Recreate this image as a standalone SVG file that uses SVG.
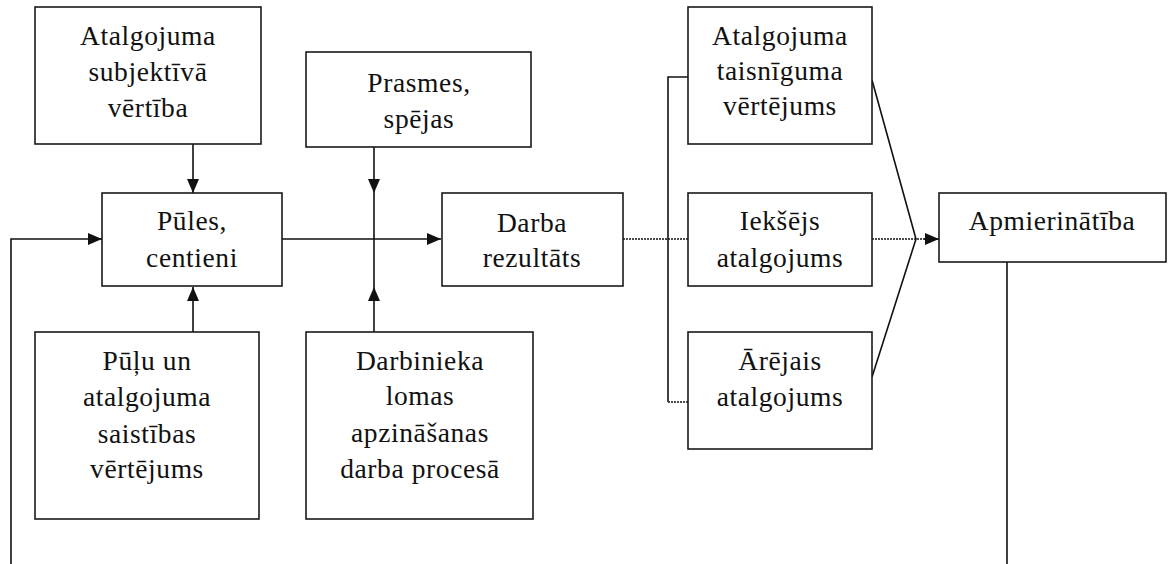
<svg xmlns="http://www.w3.org/2000/svg" width="1173" height="564" viewBox="0 0 1173 564">
  <style>
    .box { fill: #ffffff; stroke: #1a1a1a; stroke-width: 1.6; }
    .lbl { font-family: "Liberation Serif", "Times New Roman", serif; font-size: 27.5px; letter-spacing: 0.6px; fill: #111; text-anchor: middle; }
    .wire { fill: none; stroke: #111; stroke-width: 1.6; }
    .soft { fill: none; stroke: #4a4a4a; stroke-width: 2; stroke-dasharray: 2 1; }
  </style>
  <defs>
    <marker id="head" viewBox="0 0 14 12" refX="14" refY="6" markerWidth="14" markerHeight="12" markerUnits="userSpaceOnUse" orient="auto">
      <path d="M0,0 L14,6 L0,12 z" fill="#111"/>
    </marker>
  </defs>

  <rect width="1173" height="564" fill="#ffffff"/>

  <!-- connectors -->
  <g id="connectors">
    <path class="wire" d="M193,144 V193" marker-end="url(#head)"/>
    <path class="wire" d="M193,332 V287" marker-end="url(#head)"/>
    <path class="wire" d="M11,564 V239 H102" marker-end="url(#head)"/>
    <path class="wire" d="M282,239 H441" marker-end="url(#head)"/>
    <path class="wire" d="M374,147 V193" marker-end="url(#head)"/>
    <path class="wire" d="M374,193 V287"/>
    <path class="wire" d="M374,332 V287" marker-end="url(#head)"/>
    <path class="soft" d="M623,239 H688"/>
    <path class="wire" d="M688,77 H668 V402"/>
    <path class="soft" d="M668,402 H688"/>
    <path class="soft" d="M872,239 H926"/>
    <path class="wire" d="M924,239 H939" marker-end="url(#head)"/>
    <path class="wire" d="M872,80 L916,239 L872,377"/>
    <path class="wire" d="M1007,262 V564"/>
  </g>

  <!-- nodes -->
  <g id="subjektiva-vertiba">
    <rect class="box" x="35" y="7" width="226" height="137"/>
    <text class="lbl" x="148" y="45">Atalgojuma</text>
    <text class="lbl" x="148" y="81">subjektīvā</text>
    <text class="lbl" x="148" y="117">vērtība</text>
  </g>

  <g id="pules">
    <rect class="box" x="102" y="193" width="180" height="93"/>
    <text class="lbl" x="192" y="230">Pūles,</text>
    <text class="lbl" x="192" y="267">centieni</text>
  </g>

  <g id="saistibas-vertejums">
    <rect class="box" x="35" y="332" width="224" height="187"/>
    <text class="lbl" x="147" y="370">Pūļu un</text>
    <text class="lbl" x="147" y="406">atalgojuma</text>
    <text class="lbl" x="147" y="443">saistības</text>
    <text class="lbl" x="147" y="478">vērtējums</text>
  </g>

  <g id="prasmes">
    <rect class="box" x="306" y="52" width="225" height="95"/>
    <text class="lbl" x="419" y="92">Prasmes,</text>
    <text class="lbl" x="419" y="128">spējas</text>
  </g>

  <g id="lomas-apzinasana">
    <rect class="box" x="306" y="332" width="227" height="187"/>
    <text class="lbl" x="420" y="370">Darbinieka</text>
    <text class="lbl" x="420" y="405">lomas</text>
    <text class="lbl" x="420" y="442">apzināšanas</text>
    <text class="lbl" x="420" y="478">darba procesā</text>
  </g>

  <g id="darba-rezultats">
    <rect class="box" x="442" y="193" width="181" height="93"/>
    <text class="lbl" x="532" y="232">Darba</text>
    <text class="lbl" x="532" y="267">rezultāts</text>
  </g>

  <g id="taisniguma-vertejums">
    <rect class="box" x="688" y="7" width="184" height="137"/>
    <text class="lbl" x="780" y="45">Atalgojuma</text>
    <text class="lbl" x="780" y="80">taisnīguma</text>
    <text class="lbl" x="780" y="115">vērtējums</text>
  </g>

  <g id="ieksejs-atalgojums">
    <rect class="box" x="688" y="193" width="184" height="93"/>
    <text class="lbl" x="780" y="230">Iekšējs</text>
    <text class="lbl" x="780" y="267">atalgojums</text>
  </g>

  <g id="arejais-atalgojums">
    <rect class="box" x="688" y="332" width="184" height="117"/>
    <text class="lbl" x="780" y="370">Ārējais</text>
    <text class="lbl" x="780" y="406">atalgojums</text>
  </g>

  <g id="apmierinatiba">
    <rect class="box" x="939" y="193" width="227" height="69"/>
    <text class="lbl" x="1052" y="230">Apmierinātība</text>
  </g>
</svg>
